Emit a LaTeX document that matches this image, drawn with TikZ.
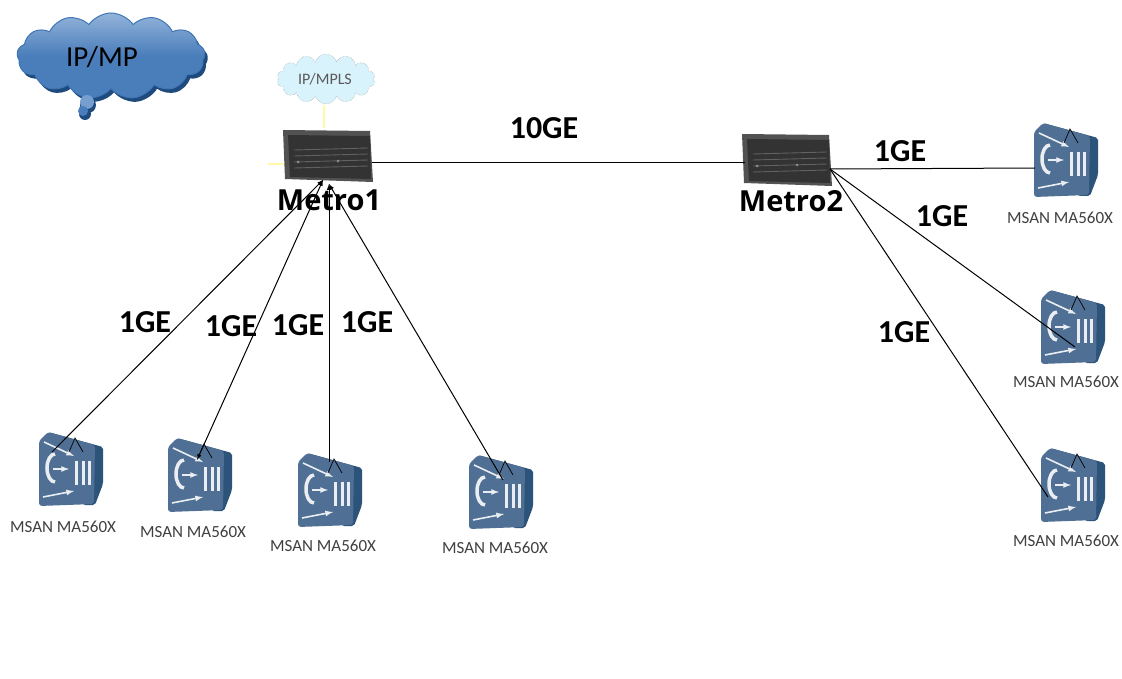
\documentclass[tikz,border=0pt]{standalone}
\usepackage{fontspec}
\setmainfont{Carlito}
\newfontfamily\boldfont{Open Sans}
\usetikzlibrary{arrows,shapes.symbols}
\definecolor{cloudtop}{HTML}{93B3DA}
\definecolor{cloudlow}{HTML}{4A7EBB}
\definecolor{cloudline}{HTML}{3F76B5}
\definecolor{cloudback}{HTML}{1F4A7D}
\definecolor{msanbody}{HTML}{4F7094}
\definecolor{msanedge}{HTML}{2C5379}
\tikzstyle{link}=[draw, black, line width=1pt]
\tikzstyle{speed}=[font=\fontsize{32}{32}\selectfont\bfseries]
\tikzstyle{metrolabel}=[font=\boldfont\fontsize{29}{29}\selectfont\bfseries]
\tikzstyle{msanlabel}=[font=\fontsize{17}{17}\selectfont, text=black!75]
\tikzstyle{glyph}=[draw=white!88!msanbody, line width=1.6pt]
\tikzset{
  msan/.pic={
    \fill[msanedge,rounded corners=2pt] (10,0) -- (65,15) -- (65,52) -- (57,73) -- (45,73) -- (30,30) -- cycle;
    \fill[msanbody,rounded corners=3pt] (1,9) -- (10,0) -- (57,13) -- (56,72) -- (1,74) -- cycle;
    \draw[glyph,-latex] (6,10) -- (36,24);
    \draw[glyph,-latex] (5,65) -- (36,59);
    \draw[glyph,-latex] (15,37) -- (31,37);
    \draw[glyph,line width=3.5pt] (17,50) arc (90:270:8 and 14);
    \foreach \b in {38,45,51} % the three bars
      \draw[glyph,line width=3pt] (\b,29) -- (\b,53);
    \draw[black,line width=.7pt] (31,20) -- (37,6) -- (45,20);
  },
  metrobox/.pic={
    \fill[black!68] (1,2) -- (88,3) -- (91,54) -- (3,51) -- cycle;
    \fill[black!80] (6,7) -- (88,8) -- (89,51) -- (8,49) -- cycle;
    \foreach \y in {22,28,34,40}
      \draw[black!62,line width=.9pt] (12,\y) -- (86,\y-2);
    \fill[black!45] (16,34) circle (1.5);
    \fill[black!45] (56,33) circle (1.5);
  }
}
\begin{document}
\begin{tikzpicture}[x=1pt,y=-1pt]
\useasboundingbox[fill=white] (0,0) rectangle (1122,679);
% big cloud with its bubbles
\node[cloud,cloud puffs=13,cloud puff arc=110,aspect=2.4,fill=cloudback,minimum width=188pt,minimum height=86pt,inner sep=0pt] (shade) at (114,60) {};
\fill[cloudback] (88,105) circle (8);
\fill[cloudback] (85,114) circle (6);
\node[cloud,cloud puffs=13,cloud puff arc=110,aspect=2.4,draw=cloudline,line width=1pt,top color=cloudtop,bottom color=cloudlow,middle color=cloudlow,minimum width=188pt,minimum height=86pt,inner sep=0pt] (ipmp) at (111,56) {};
\fill[cloudtop!60!cloudlow] (87,102) circle (7);
\fill[cloudlow] (83,111) circle (5);
\node[font=\fontsize{29}{29}\selectfont] (ipmptext) at (102,57) {IP/MP};
% small cloud over Metro1
\draw[yellow!35!white,line width=1.2pt] (324,105) -- (324,128);
\draw[yellow!35!white,line width=1.2pt] (268,164) -- (284,164);
\node[cloud,cloud puffs=14,aspect=2,draw=black!45,densely dotted,fill=cyan!15,minimum width=98pt,minimum height=50pt,inner sep=0pt] (mpls) at (326,79) {};
\node[font=\fontsize{16}{16}\selectfont,text=black!65] (mplstext) at (325,79) {IP/MPLS};
% metro boxes
\pic at (282,128) {metrobox};
\pic at (741,132) {metrobox};
\coordinate (metro1) at (323,180);
\coordinate (metro1c) at (329,184);
\coordinate (metro1r) at (372,163);
\coordinate (metro2) at (830,169);
\coordinate (metro2l) at (745,163);
\node[metrolabel] (metro1lab) at (329,200) {Metro1};
\node[metrolabel] (metro2lab) at (791,201) {Metro2};
% msan boxes
\foreach \n/\x/\y/\lx/\ly/\ex/\ey in {a/38/432/63/527/52/452,b/167/438/193/532/197/460,c/297/453/323/546/329/462,d/468/455/495/548/503/480,e/1033/123/1060/218/1035/168,f/1040/290/1066/382/1075/347,g/1040/448/1066/541/1048/497}{
  \pic at (\x,\y) {msan};
  \node[msanlabel] (lab\n) at (\lx,\ly) {MSAN MA560X};
  \coordinate (ms\n) at (\ex,\ey);
}
\path[link] (metro1r) -- (metro2l);
\path[link,-latex] (msa) -- (metro1);
\path[link,latex-latex] (msb) -- (metro1);
\path[link,-latex] (msc) -- (metro1c);
\path[link,-latex] (msd) -- (metro1c);
\foreach \n in {e,f,g}
  \path[link] (metro2) -- (ms\n);
% link labels
\node[speed] (ten) at (544,128) {10GE};
\node[speed] (ga) at (145,322) {1GE};
\node[speed] (gb) at (231,326) {1GE};
\node[speed] (gc) at (298,325) {1GE};
\node[speed] (gd) at (367,322) {1GE};
\node[speed] (ge) at (900,151) {1GE};
\node[speed] (gf) at (942,216) {1GE};
\node[speed] (gg) at (904,332) {1GE};
\end{tikzpicture}
\end{document}
